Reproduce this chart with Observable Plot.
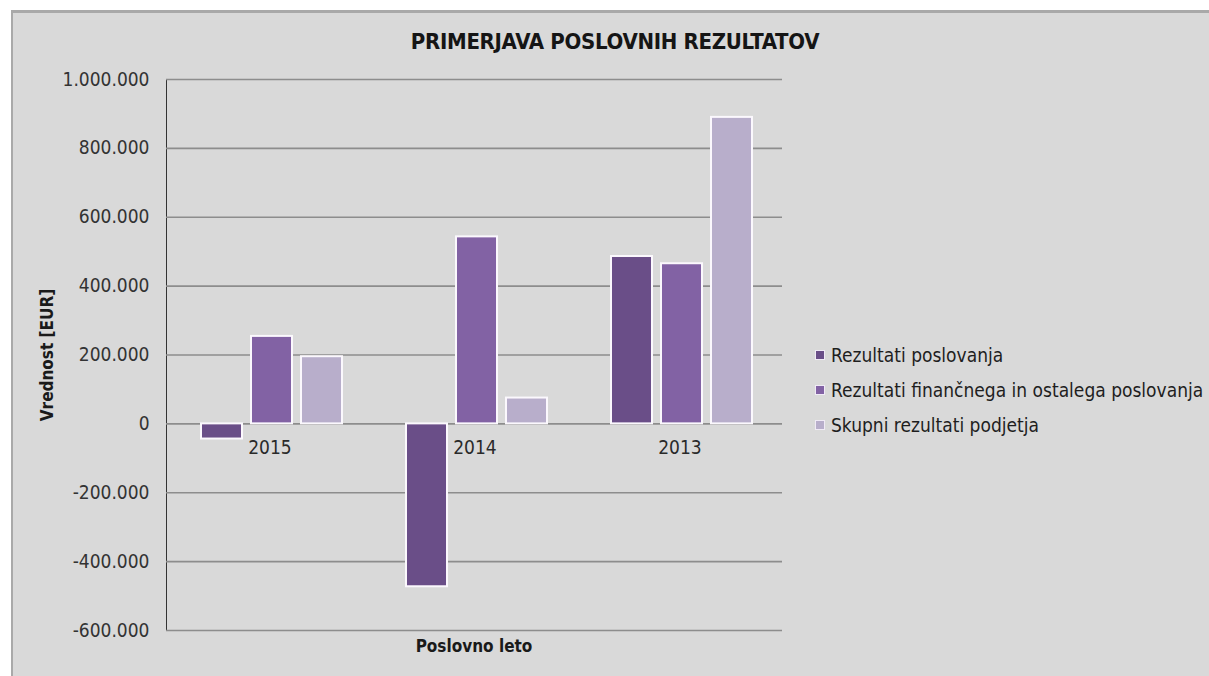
<!DOCTYPE html>
<html>
<head>
<meta charset="utf-8">
<script src="https://cdn.jsdelivr.net/npm/d3@7"></script>
<script src="https://cdn.jsdelivr.net/npm/@observablehq/plot@0.6"></script>
<style>
  html, body { margin: 0; padding: 0; background: #fff; }
  #wrap { position: relative; width: 1209px; height: 676px; overflow: hidden; font-family: "DejaVu Sans Condensed", "DejaVu Sans", sans-serif; }
  #box { position: absolute; left: 11px; top: 10px; width: 1198px; height: 666px; background: #d9d9d9; border-left: 2px solid #a9a9a9; border-top: 3px solid #a9a9a9; box-sizing: border-box; }
  #chart { position: absolute; left: 0; top: 0; }
  #title { position: absolute; left: 0; width: 1230px; top: 29px; text-align: center; font-weight: bold; font-size: 22px; color: #151515; letter-spacing: -0.3px; }
  #ytitle { position: absolute; left: 47px; top: 355px; transform: translate(-50%, -50%) rotate(-90deg); font-weight: bold; font-size: 17px; color: #1a1a1a; white-space: nowrap; }
  #xtitle { position: absolute; left: 474px; top: 646px; transform: translate(-50%, -50%); font-weight: bold; font-size: 17px; color: #1a1a1a; white-space: nowrap; }
  #legend { position: absolute; left: 815px; top: 337px; font-size: 19px; color: #1e1e1e; }
  .item { display: flex; align-items: center; height: 35px; }
  .sw { width: 8px; height: 8px; border: 1px solid #f0eaf6; margin-right: 6px; }
</style>
</head>
<body>
<div id="wrap">
  <div id="box"></div>
  <div id="chart"></div>
  <div id="title">PRIMERJAVA POSLOVNIH REZULTATOV</div>
  <div id="ytitle">Vrednost [EUR]</div>
  <div id="xtitle">Poslovno leto</div>
  <div id="legend"></div>
</div>
<script>
// Data
const years = ["2015", "2014", "2013"];
const seriesNames = ["Rezultati poslovanja", "Rezultati finančnega in ostalega poslovanja", "Skupni rezultati podjetja"];
const rezultatiPoslovanja = [-44000, -473000, 486000];
const rezultatiFinancnega = [254000, 543000, 465000];
const skupniRezultati = [195000, 75000, 890000];
const yTicks = [-600000, -400000, -200000, 0, 200000, 400000, 600000, 800000, 1000000];
const colors = ["#6a4e88", "#8262a4", "#b8aecb"];

const seriesValues = [rezultatiPoslovanja, rezultatiFinancnega, skupniRezultati];
const table = seriesValues.flatMap((vals, s) => years.map((year, i) => ({year, series: seriesNames[s], value: vals[i]})));

const fmt = d3.formatLocale({decimal: ",", thousands: ".", grouping: [3], currency: ["", "€"], minus: "-"}).format(",d");

const offsets = [-50, 0, 50];
const barMarks = seriesNames.map((name, s) => Plot.barY(table.filter(d => d.series === name), {
  x: "year", y: "value", fill: colors[s], stroke: "#fbf8fd", strokeWidth: 2,
  dx: offsets[s] + 2, insetLeft: 82, insetRight: 82
}));

const chart = Plot.plot({
  width: 1209,
  height: 676,
  marginLeft: 166,
  marginRight: 427,
  marginTop: 79,
  marginBottom: 46,
  style: {background: "transparent", fontFamily: "DejaVu Sans Condensed, DejaVu Sans, sans-serif", fontSize: "19px", color: "#333"},
  x: {domain: years, padding: 0, axis: null},
  y: {domain: [-600000, 1000000], ticks: yTicks, tickFormat: fmt, tickSize: 0, tickPadding: 17, label: null, line: true},
  marks: [
    Plot.ruleY(yTicks, {stroke: "#8d8d8d", strokeWidth: 1.6}),
    ...barMarks,
    Plot.text(years, {x: d => d, y: d => 0, dy: 24, text: d => d, fontSize: 19, fill: "#2a2a2a"})
  ]
});
d3.select(chart).selectAll("[aria-label='y-axis'] path, [aria-label='y-axis domain'] path, [aria-label='y-axis line'] path").attr("stroke", "#8d8d8d").attr("stroke-width", 1.6);
document.getElementById("chart").appendChild(chart);

const legend = d3.select("#legend");
seriesNames.forEach((name, i) => {
  const item = legend.append("div").attr("class", "item");
  item.append("div").attr("class", "sw").style("background", colors[i]);
  item.append("span").text(name);
});
</script>
</body>
</html>
